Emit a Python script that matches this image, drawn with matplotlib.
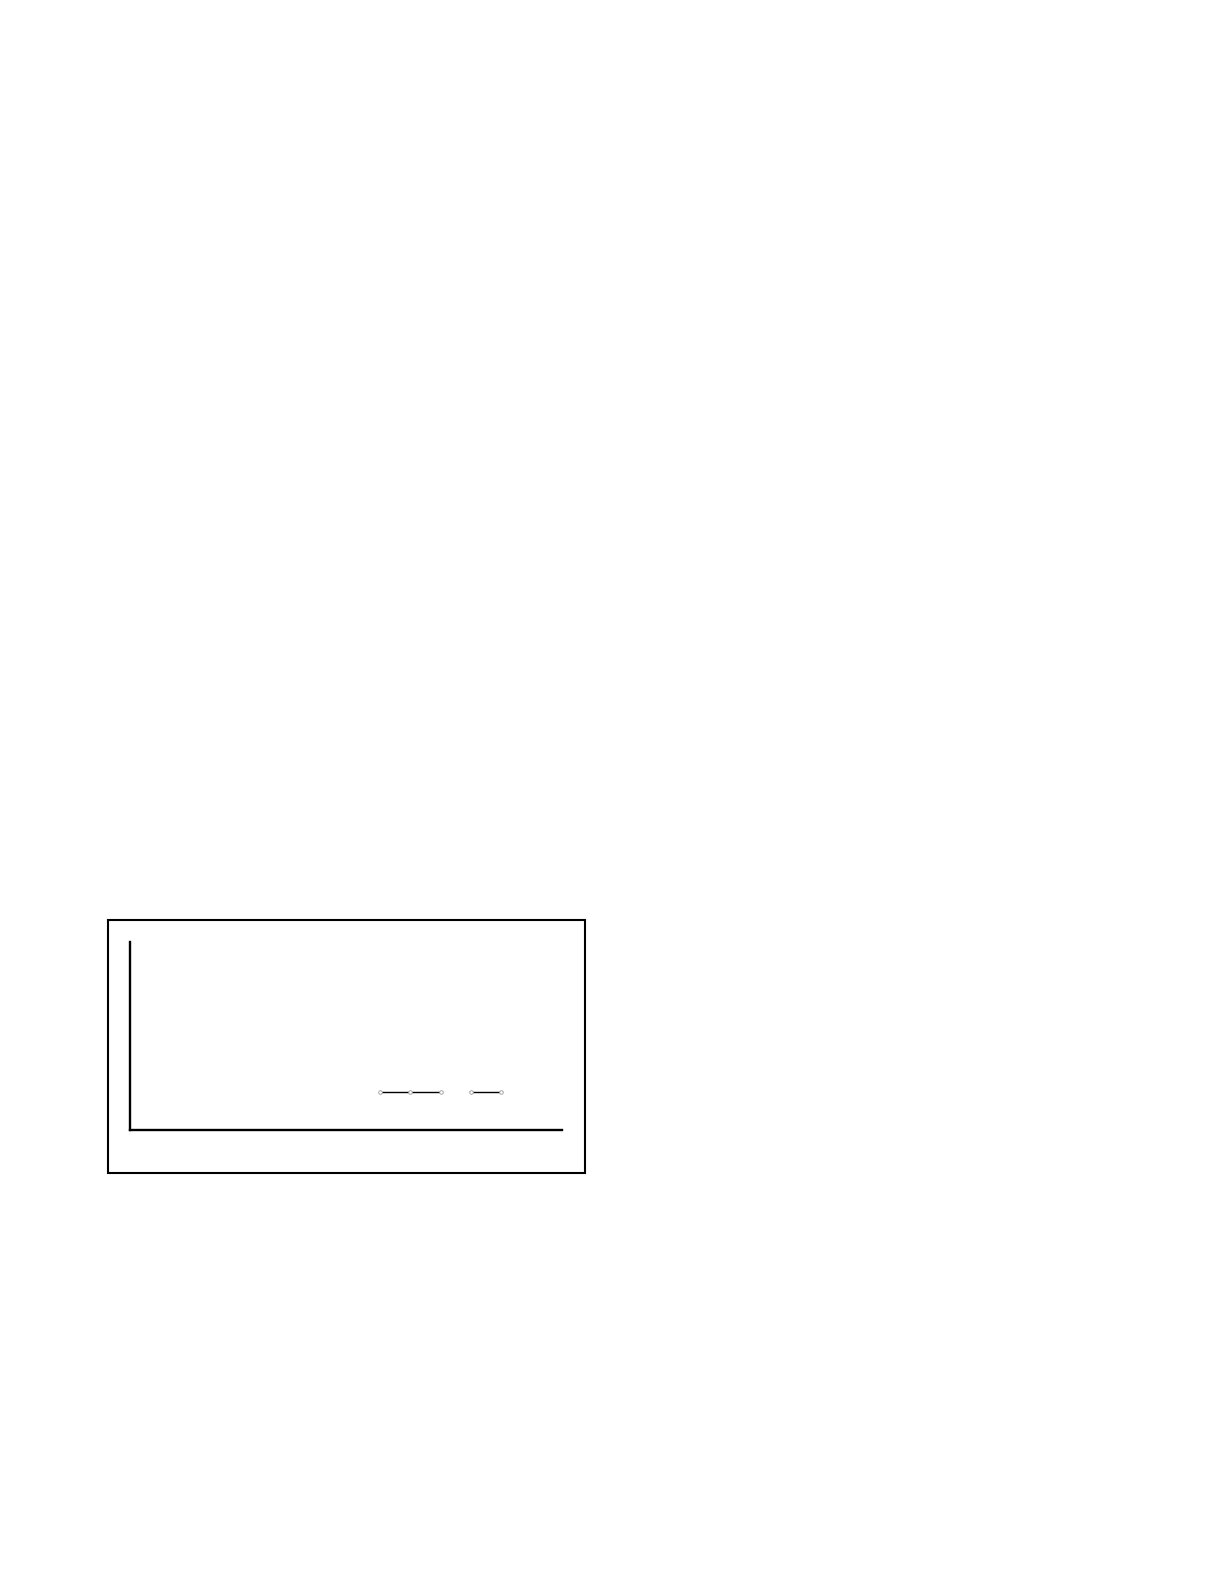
import matplotlib
matplotlib.use("Agg")
import matplotlib.pyplot as plt
from matplotlib.patches import Rectangle

# two short runs of the same series, broken between them
x_a = [8, 9, 10]
y_a = [0.2, 0.2, 0.2]
x_b = [11, 12]
y_b = [0.2, 0.2]

W, H = 1224, 1584
fig = plt.figure(figsize=(W / 100, H / 100), dpi=100)

# outer frame around the chart
box = Rectangle((107.7 / W, 1 - 1173 / H), (585.3 - 107.7) / W, (1173 - 920) / H,
                transform=fig.transFigure, fill=False, edgecolor="black", linewidth=1.5)
fig.patches.append(box)

ax = fig.add_axes([130 / W, 1 - 1129.7 / H, (562 - 130) / W, (1129.7 - 941.7) / H])
for xs, ys in [(x_a, y_a), (x_b, y_b)]:
    ax.plot(xs, ys, color="black", linewidth=1.0, marker="o", markersize=2.6,
            markerfacecolor="white", markeredgecolor="#999999", markeredgewidth=0.6)

ax.set_xlim(-0.29, 14.02)
ax.set_ylim(0, 1)
ax.spines["top"].set_visible(False)
ax.spines["right"].set_visible(False)
ax.spines["left"].set_linewidth(1.7)
ax.spines["bottom"].set_linewidth(1.7)
ax.set_xticks([])
ax.set_yticks([])

fig.savefig("out.png", dpi=100)
